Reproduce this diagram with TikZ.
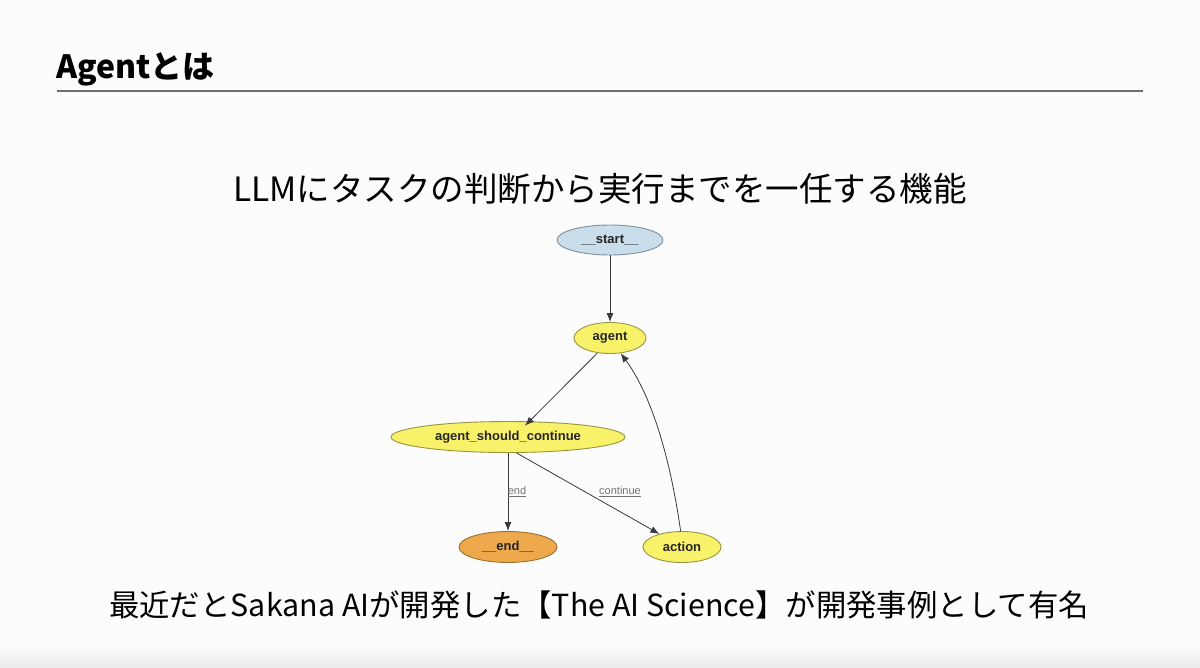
\documentclass[tikz,border=0pt]{standalone}
\usepackage{fontspec}
\setmainfont{Noto Sans CJK JP}
\newfontfamily\arialfont{Liberation Sans}
\usetikzlibrary{shapes.geometric,arrows.meta}
\definecolor{startfill}{HTML}{C9DDEA}
\definecolor{startdraw}{HTML}{7F8F9C}
\definecolor{yfill}{HTML}{F8F26A}
\definecolor{ydraw}{HTML}{9A9440}
\definecolor{endfill}{HTML}{EDA94B}
\definecolor{enddraw}{HTML}{9A7030}
\definecolor{edgecol}{HTML}{3A3A3A}
\definecolor{rulecol}{HTML}{6E6E6E}
\tikzset{
  gnode/.style={ellipse, inner sep=0pt, line width=0.9pt, minimum height=31pt,
    font=\arialfont\bfseries\fontsize{13}{15}\selectfont, text=black!85},
  ynode/.style={gnode, fill=yfill, draw=ydraw},
  gedge/.style={draw=edgecol, line width=0.8pt, -{Latex[length=9pt,width=7pt]}},
  elabel/.style={font=\arialfont\fontsize{11}{12}\selectfont, text=black!55, inner sep=1pt}
}
\begin{document}
\begin{tikzpicture}[x=1pt,y=-1pt]
\useasboundingbox (0,0) rectangle (1200,667);
\fill[white!99!black] (0,0) rectangle (1200,667);
\shade[top color=white!99!black, bottom color=black!8] (0,645) rectangle (1200,667);
% title
\node[anchor=base west, font=\bfseries\fontsize{32}{36}\selectfont, inner sep=0pt] (title) at (56,78) {Agentとは};
\coordinate (rl) at (57,91);
\coordinate (rr) at (1143,91);
\draw[rulecol, line width=1.2pt] (rl) -- (rr);
% subtitle
\node[font=\fontsize{33.5}{36}\selectfont, inner sep=0pt] (sub) at (600,189) {LLMにタスクの判断から実行までを一任する機能};
% graph
\node[gnode, fill=startfill, draw=startdraw, minimum width=106pt, minimum height=30pt] (start) at (610,240) {\_\_start\_\_};
\node[ynode, minimum width=72pt] (agent) at (610,338) {agent};
\node[ynode, minimum width=234pt] (asc) at (508,437) {agent\_should\_continue};
\node[gnode, fill=endfill, draw=enddraw, minimum width=98pt] (end) at (508,547) {\_\_end\_\_};
\node[ynode, minimum width=78pt] (action) at (682,547) {action};
\draw[gedge] (start) -- (agent);
\draw[gedge] (agent.-130) -- (asc.north east -| 525,0) ;
\draw[gedge] (asc.south) ++(0,0) coordinate (ascs) (ascs -| end) -- (end);
\draw[gedge] (asc.-62) -- (action.150);
\draw[gedge] (action.95) .. controls (672,470) and (655,400) .. (agent.-55);
\node[elabel] (lend) at (517,492) {\underline{end}};
\node[elabel] (lcont) at (620,492) {\underline{continue}};
% bottom text
\node[font=\fontsize{30.4}{33}\selectfont, inner sep=0pt] (bottom) at (599,605) {最近だとSakana AIが開発した【The AI Science】が開発事例として有名};
\end{tikzpicture}
\end{document}
